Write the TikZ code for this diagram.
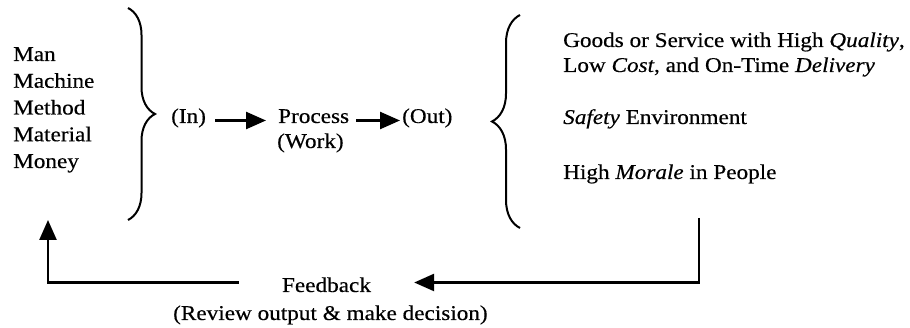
\documentclass[tikz,border=0pt]{standalone}
\usepackage{fontspec}
\setmainfont{Liberation Serif}[FakeStretch=1.105,FakeBold=0.4]
\usetikzlibrary{arrows.meta,decorations.pathreplacing}
\begin{document}
\begin{tikzpicture}[x=1pt,y=1pt,
  txt/.style={inner sep=0pt,anchor=base west,font=\fontsize{21}{26.75}\selectfont,text height=0.7em,text depth=0.2em},
  lst/.style={inner sep=0pt,anchor=base west,font=\fontsize{21}{26.75}\selectfont},
  arr/.style={line width=2.5pt,-{Triangle[length=20pt,width=17pt]}},
  brc/.style={line width=2pt,decorate,decoration={brace,amplitude=27pt}}]
\useasboundingbox (0,0) rectangle (910,328);
% inputs
\node[lst] (inputs) at (13,267) {\begin{tabular}[t]{@{}l@{}}Man\\Machine\\Method\\Material\\Money\end{tabular}};
\draw[brc] (128,320) -- (128,108);
% process chain
\node[txt] (in) at (171,205) {(In)};
\node[txt] (process) at (278,205) {Process};
\node[txt] (work) at (277,180) {(Work)};
\node[txt] (out) at (402,205) {(Out)};
\draw[arr,shorten <=9pt,shorten >=12pt] (in.east) -- (process.west);
\draw[arr,shorten <=7pt,shorten >=2pt] (process.east) -- (out.west);
% outputs
\draw[brc,decoration={amplitude=28pt}] (520,100) -- (520,313);
\node[lst] (goods) at (563,281) {\fontsize{21}{25}\selectfont\begin{tabular}[t]{@{}l@{}}Goods or Service with High \textit{Quality},\\Low \textit{Cost}, and On-Time \textit{Delivery}\end{tabular}};
\node[txt] (safety) at (563,204) {\textit{Safety} Environment};
\node[txt] (morale) at (563,149) {High \textit{Morale} in People};
% feedback
\node[txt,inner xsep=43pt,anchor=base] (feedback) at (326.5,36) {Feedback};
\node[txt] (review) at (173,8) {(Review output \& make decision)};
\coordinate (rtop) at (699,110);
\coordinate (lbot) at (48,45.5);
\coordinate (ltop) at (48,108);
\draw[arr] (rtop) -- (rtop |- lbot) -- (feedback.east |- lbot);
\draw[arr] (feedback.west |- lbot) -- (lbot) -- (ltop);
\end{tikzpicture}
\end{document}
